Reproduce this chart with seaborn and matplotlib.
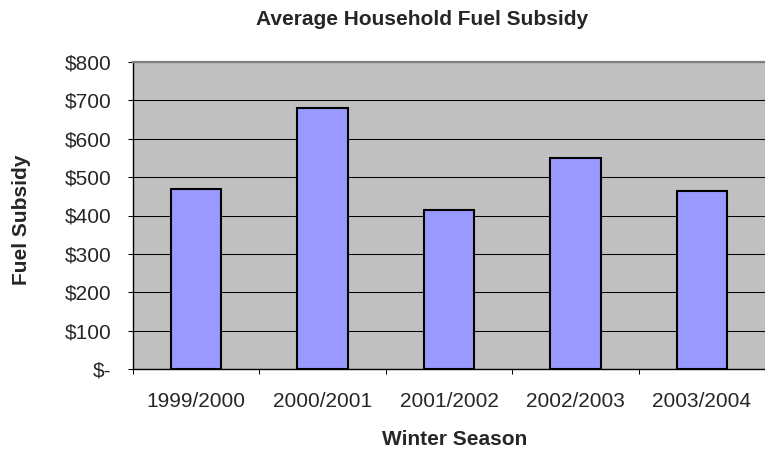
import matplotlib
matplotlib.use("Agg")
import matplotlib.pyplot as plt
import seaborn as sns
import pandas as pd

# Average household fuel subsidy by winter season
seasons = ["1999/2000", "2000/2001", "2001/2002", "2002/2003", "2003/2004"]
subsidy = [470, 680, 415, 550, 465]
y_ticks = [0, 100, 200, 300, 400, 500, 600, 700, 800]
y_tick_labels = ["$-", "$100", "$200", "$300", "$400", "$500", "$600", "$700", "$800"]

df = pd.DataFrame({"season": seasons, "subsidy": subsidy})

sns.set_style("white")
plt.rcParams["font.family"] = ["Liberation Sans", "DejaVu Sans"]

W, H, DPI = 765, 449, 100
fig = plt.figure(figsize=(W / DPI, H / DPI), dpi=DPI, facecolor="white")

# plot area in pixels
left_px, right_px, top_px, bottom_px = 133, 765, 62, 369
ax = fig.add_axes([left_px / W, 1 - bottom_px / H,
                   (right_px - left_px) / W, (bottom_px - top_px) / H])
ax.set_facecolor("#C0C0C0")

sns.barplot(data=df, x="season", y="subsidy", color="#9999FF", saturation=1,
            edgecolor="black", linewidth=1.5, width=0.4, ax=ax, zorder=3)

# category width is 128.5 px; the plot area runs past the right edge
cat_px = 128.5
ax.set_xlim(-0.5, -0.5 + (right_px - left_px) / cat_px)
ax.set_ylim(0, 800)

ax.set_yticks(y_ticks)
ax.set_yticklabels(y_tick_labels)
ax.yaxis.grid(True, color="black", linewidth=0.75, zorder=1)
ax.set_axisbelow(True)

ax.set_xticks(range(len(seasons)))
ax.set_xticklabels(seasons)
ax.set_xticks([i - 0.5 for i in range(len(seasons) + 1)], minor=True)

ax.tick_params(axis="y", which="major", direction="out", length=3.6, width=0.75,
               color="black", pad=12.2, labelsize=15, left=True)
ax.tick_params(axis="x", which="major", length=0, labelsize=15, pad=27.5)
ax.tick_params(axis="x", which="minor", direction="out", length=3.6, width=0.75,
               color="black", bottom=True)
for lbl in ax.get_xticklabels():
    lbl.set_verticalalignment("baseline")

for side in ["left", "bottom"]:
    ax.spines[side].set_color("black")
    ax.spines[side].set_linewidth(1.0)
ax.spines["top"].set_color("#808080")
ax.spines["top"].set_linewidth(1.6)
ax.spines["right"].set_visible(False)

ax.set_xlabel("")
ax.set_ylabel("")

fig.text(422 / W, 1 - 25 / H, "Average Household Fuel Subsidy",
         ha="center", va="baseline", fontsize=15, fontweight="bold")
fig.text(455 / W, 1 - 445 / H, "Winter Season",
         ha="center", va="baseline", fontsize=15, fontweight="bold")
fig.text(22 / W, 1 - 220 / H, "Fuel Subsidy", rotation=90,
         ha="center", va="center", fontsize=15, fontweight="bold")

fig.savefig("out.png", dpi=DPI, facecolor="white")
